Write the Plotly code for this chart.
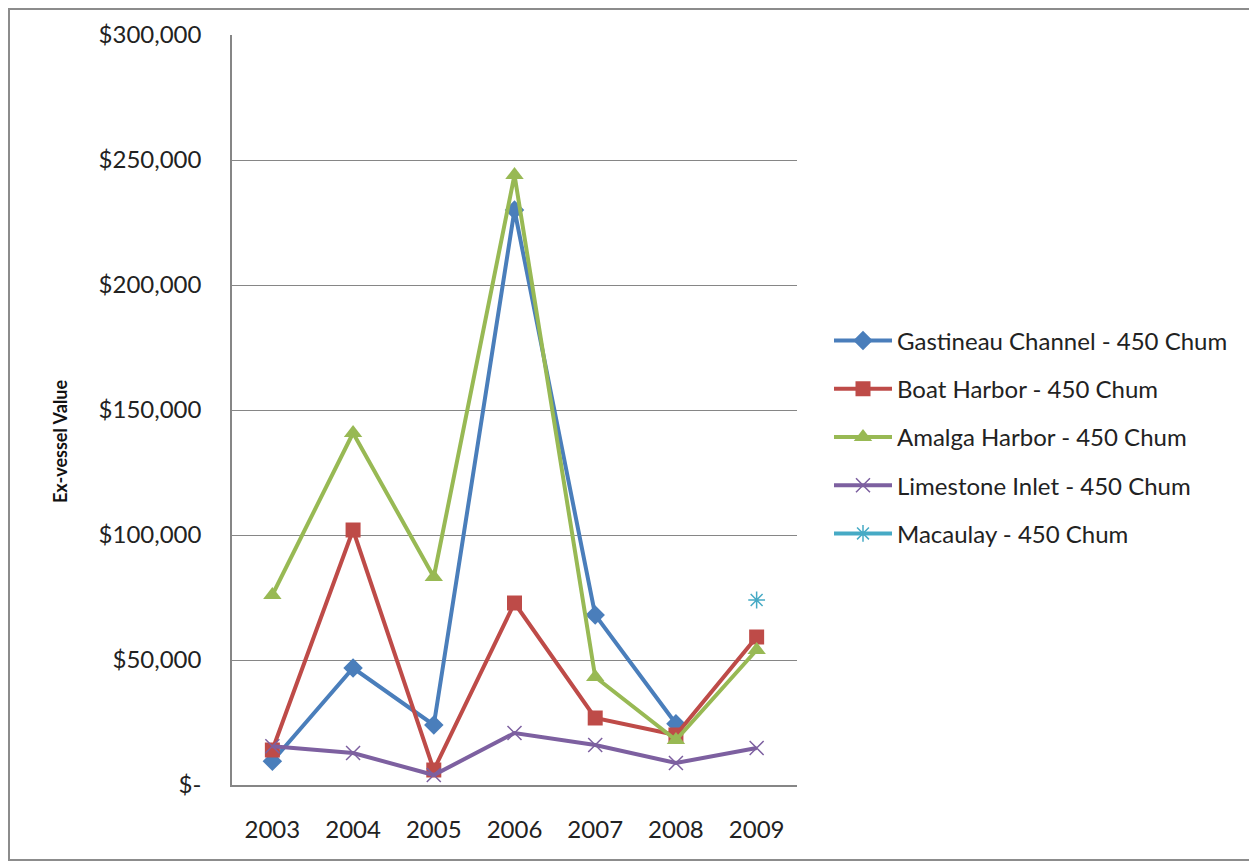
import plotly.graph_objects as go

years = [2003, 2004, 2005, 2006, 2007, 2008, 2009]
gastineau = [9500, 46800, 24000, 230000, 68000, 24500, None]
boat = [14000, 102000, 6000, 72800, 26800, 20000, 59200]
amalga = [76000, 140800, 83200, 244000, 43200, 18000, 54000]
limestone = [15500, 12800, 4000, 20800, 16000, 8800, 14800]
macaulay = [None, None, None, None, None, None, 74000]

names = ["Gastineau Channel - 450 Chum", "Boat Harbor - 450 Chum",
         "Amalga Harbor - 450 Chum", "Limestone Inlet - 450 Chum",
         "Macaulay - 450 Chum"]
ytickvals = [0, 50000, 100000, 150000, 200000, 250000, 300000]
yticktext = ["$-", "$50,000", "$100,000", "$150,000", "$200,000", "$250,000", "$300,000"]
ytitle = "Ex-vessel Value"

series = [gastineau, boat, amalga, limestone, macaulay]
colors = ["#4A7EBB", "#BE4B48", "#98B954", "#7D60A0", "#46AAC5"]
symbols = ["diamond", "square", "triangle-up", "x-thin", "asterisk"]
msizes = [15, 15, 16, 14, 14]

W, H = 1249, 858
L, R, T, B = 224, 460, 27, 81
pw, ph = W - L - R, H - T - B

fig = go.Figure()
for i, (vals, name) in enumerate(zip(series, names)):
    thin = symbols[i] in ("x-thin", "asterisk")
    fig.add_trace(go.Scatter(
        x=years, y=vals, name=name, mode="lines+markers",
        legendgroup=str(i),
        line=dict(color=colors[i], width=4),
        marker=dict(symbol=symbols[i], size=msizes[i], color=colors[i],
                    line=dict(color=colors[i], width=1.5 if thin else 0)),
        connectgaps=False,
    ))

fig.update_layout(
    width=W, height=H,
    margin=dict(l=L, r=R, t=T, b=B),
    paper_bgcolor="white", plot_bgcolor="white",
    font=dict(family="Lato, Carlito, Calibri, sans-serif", size=24, color="#222222"),
    showlegend=True,
    legend=dict(x=(821 - L) / pw, y=0.464, xanchor="left", yanchor="middle",
                font=dict(size=24), tracegroupgap=14, traceorder="grouped",
                itemwidth=58, bgcolor="rgba(0,0,0,0)"),
    xaxis=dict(range=[2002.5, 2009.5], tickmode="array", tickvals=years,
               ticktext=[str(y) for y in years], showgrid=False,
               showline=True, linecolor="#868686", linewidth=1.5,
               ticks="outside", ticklen=22, tickcolor="rgba(0,0,0,0)",
               zeroline=False),
    yaxis=dict(range=[0, 300000], tickmode="array", tickvals=ytickvals,
               ticktext=yticktext, showgrid=True, gridcolor="#868686", gridwidth=1,
               showline=True, linecolor="#868686", linewidth=1.5,
               ticks="outside", ticklen=24, tickcolor="rgba(0,0,0,0)",
               zeroline=False),
    annotations=[dict(text="<b>" + ytitle + "</b>", textangle=-90,
                      xref="paper", yref="paper",
                      x=(52 - L) / pw, y=(H - B - 433) / ph,
                      xanchor="center", yanchor="middle", showarrow=False,
                      font=dict(size=18, color="#111111"))],
    shapes=[dict(type="rect", xref="paper", yref="paper",
                 x0=(1 - L) / pw, x1=(1244 - L) / pw,
                 y0=-(852 - (H - B)) / ph, y1=(H - B - 1) / ph,
                 line=dict(color="#8C8C8C", width=2), fillcolor="rgba(0,0,0,0)",
                 layer="below")],
)

fig.write_html("out.html")
